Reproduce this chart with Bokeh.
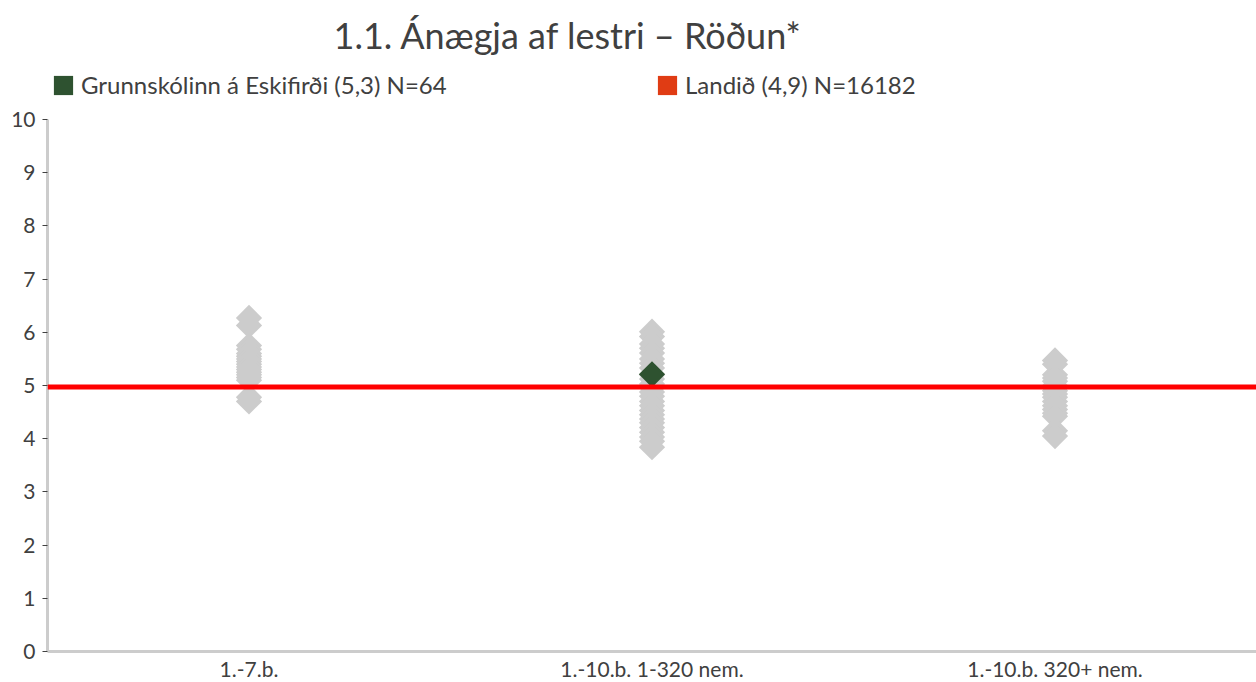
import numpy as np
from bokeh.plotting import figure
from bokeh.models import (ColumnDataSource, Span, FixedTicker, Legend, LegendItem, Range1d, Label)
from bokeh.embed import file_html
from bokeh.resources import INLINE

title_text = "1.1. Ánægja af lestri – Röðun*"
categories = ["1.-7.b.", "1.-10.b. 1-320 nem.", "1.-10.b. 320+ nem."]

# gray: other schools per group
group1_vals = [6.27, 6.13, 5.75, 5.68, 5.6, 5.55, 5.5, 5.45, 5.4, 5.35, 5.3, 5.25, 5.2, 5.15, 5.1, 4.78, 4.7]
group2_vals = [6.01, 5.92, 5.78, 5.7, 5.61, 5.5, 5.42, 5.33, 5.2, 5.12, 5.03, 4.96, 4.88, 4.8, 4.7,
               4.62, 4.53, 4.45, 4.37, 4.3, 4.21, 4.12, 4.03, 3.95, 3.84]
group3_vals = [5.47, 5.4, 5.2, 5.14, 5.08, 5.0, 4.95, 4.9, 4.84, 4.78, 4.7, 4.62, 4.55, 4.48, 4.42, 4.15, 4.05]

school_label = "Grunnskólinn á Eskifirði (5,3) N=64"
school_group = 1
school_value = 5.21
national_label = "Landið (4,9) N=16182"
national_value = 4.97

y_ticks = list(range(0, 11))

TXT = "#404040"
GRAY = "#CCCCCC"
GREEN = "#2E5230"
LEGRED = "#E03C14"
FONT = "Lato"

xs, ys = [], []
for i, vals in enumerate([group1_vals, group2_vals, group3_vals]):
    xs += [i] * len(vals)
    ys += vals
src = ColumnDataSource(dict(x=xs, y=ys))
school_src = ColumnDataSource(dict(x=[school_group], y=[school_value]))
# legend swatches: a point outside the visible range, only used for the legend glyph
swatch_src = ColumnDataSource(dict(x=[-10], y=[-10]))

# frame spans from the top of the canvas down to the x axis; the value axis is bounded to 0..10
FRAME_H = 651
Y_TOP = 10 * FRAME_H / 532.0

p = figure(width=1256, height=682, frame_width=1209, frame_height=FRAME_H,
           output_backend="svg", toolbar_location=None,
           x_range=Range1d(-0.5, 2.5), y_range=Range1d(0, Y_TOP),
           min_border_left=47, min_border_right=0, min_border_bottom=31, min_border_top=0)
p.background_fill_color = "white"
p.border_fill_color = "white"
p.outline_line_color = None
p.grid.visible = False

p.scatter("x", "y", source=src, marker="square", size=18.6, angle=np.pi / 4,
          fill_color=GRAY, line_color=None)

nat = Span(location=national_value, dimension="width", line_color="#FF0000", line_width=5)
p.add_layout(nat)

p.scatter("x", "y", source=school_src, marker="square", size=18.6, angle=np.pi / 4,
          fill_color=GREEN, line_color=None)
r_leg1 = p.rect("x", "y", width=0.01, height=0.01, source=swatch_src, fill_color=GREEN, line_color=None)
r_leg2 = p.rect("x", "y", width=0.01, height=0.01, source=swatch_src, fill_color=LEGRED, line_color=None)

def make_legend(label, renderer, loc):
    return Legend(items=[LegendItem(label=label, renderers=[renderer])],
                  orientation="horizontal", location=loc,
                  label_text_font=FONT, label_text_font_size="24px", label_text_color=TXT,
                  glyph_width=24, glyph_height=24, label_standoff=6, label_height=24,
                  padding=0, margin=0, border_line_color=None, background_fill_alpha=0)

p.add_layout(make_legend(school_label, r_leg1, (4, 552)))
p.add_layout(make_legend(national_label, r_leg2, (608, 552)))

title = Label(x=0.2097, y=11.597, text=title_text, text_font=FONT, text_font_size="36px",
              text_color=TXT, text_baseline="alphabetic", text_align="left")
p.add_layout(title)

p.xaxis.ticker = FixedTicker(ticks=list(range(len(categories))))
p.xaxis.major_label_overrides = {i: c for i, c in enumerate(categories)}
p.xaxis.axis_line_color = GRAY
p.xaxis.axis_line_width = 3
p.xaxis.major_tick_line_color = None
p.xaxis.minor_tick_line_color = None
p.xaxis.major_label_text_font = FONT
p.xaxis.major_label_text_font_size = "21px"
p.xaxis.major_label_text_color = TXT
p.xaxis.major_label_standoff = -2

p.yaxis.ticker = FixedTicker(ticks=y_ticks)
p.yaxis.bounds = (0, 10)
p.yaxis.axis_line_color = GRAY
p.yaxis.axis_line_width = 3
p.yaxis.major_tick_line_color = TXT
p.yaxis.major_tick_out = 5
p.yaxis.major_tick_in = 0
p.yaxis.minor_tick_line_color = None
p.yaxis.major_label_text_font = FONT
p.yaxis.major_label_text_font_size = "21px"
p.yaxis.major_label_text_color = TXT
p.yaxis.major_label_standoff = 7

open("out.html", "w").write(file_html(p, INLINE))
